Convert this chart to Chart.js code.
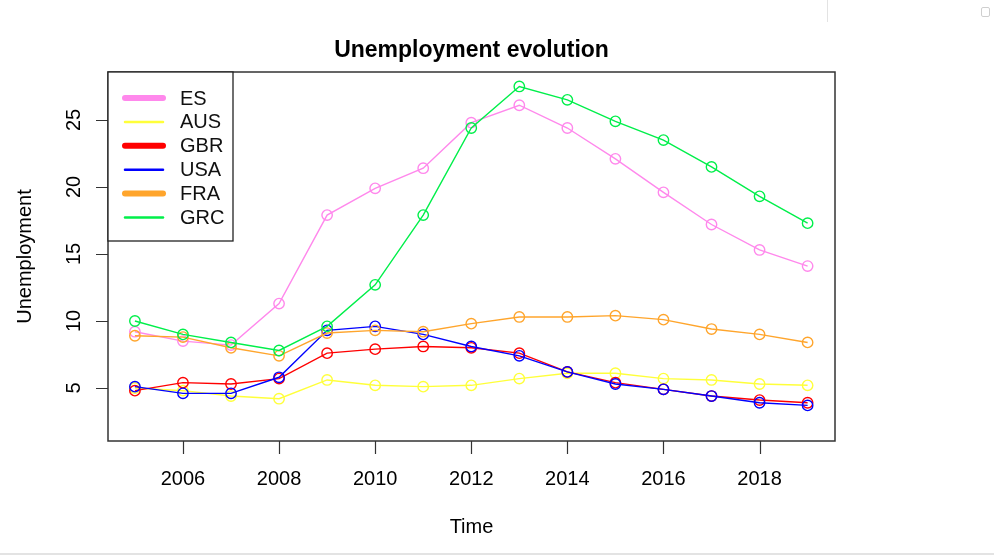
<!DOCTYPE html>
<html>
<head>
<meta charset="utf-8">
<script src="https://cdn.jsdelivr.net/npm/chart.js@4.4.1/dist/chart.umd.min.js"></script>
<style>
  html, body { margin: 0; padding: 0; background: #fff; }
  #wrap { position: relative; width: 994px; height: 555px; overflow: hidden; }
  #sep { position: absolute; left: 827px; top: 0; width: 1px; height: 22px; background: #e3e3e3; }
  #foot { position: absolute; left: 0; top: 553px; width: 994px; height: 2px; background: #e3e3e3; }
  #pop { position: absolute; left: 981px; top: 7px; width: 7px; height: 8px; border: 1px solid #cfcfcf; border-radius: 2px; }
</style>
</head>
<body>
<div id="wrap">
  <canvas id="unemploymentChart" width="994" height="555"></canvas>
  <div id="sep"></div>
  <div id="pop"></div>
  <div id="foot"></div>
</div>
<script>
// ─── Data ────────────────────────────────────────────────
const years = [2005, 2006, 2007, 2008, 2009, 2010, 2011, 2012, 2013, 2014, 2015, 2016, 2017, 2018, 2019];

const esValues  = [9.2, 8.5, 8.2, 11.3, 17.9, 19.9, 21.4, 24.8, 26.1, 24.4, 22.1, 19.6, 17.2, 15.3, 14.1];
const ausValues = [5.0, 4.8, 4.4, 4.2, 5.6, 5.2, 5.1, 5.2, 5.7, 6.1, 6.1, 5.7, 5.6, 5.3, 5.2];
const gbrValues = [4.8, 5.4, 5.3, 5.7, 7.6, 7.9, 8.1, 8.0, 7.6, 6.2, 5.4, 4.9, 4.4, 4.1, 3.9];
const usaValues = [5.1, 4.6, 4.6, 5.8, 9.3, 9.6, 9.0, 8.1, 7.4, 6.2, 5.3, 4.9, 4.4, 3.9, 3.7];
const fraValues = [8.9, 8.8, 8.0, 7.4, 9.1, 9.3, 9.2, 9.8, 10.3, 10.3, 10.4, 10.1, 9.4, 9.0, 8.4];
const grcValues = [10.0, 9.0, 8.4, 7.8, 9.6, 12.7, 17.9, 24.4, 27.5, 26.5, 24.9, 23.5, 21.5, 19.3, 17.3];

const seriesNames = ['ES', 'AUS', 'GBR', 'USA', 'FRA', 'GRC'];
const xTicks = [2006, 2008, 2010, 2012, 2014, 2016, 2018];
const yTicks = [5, 10, 15, 20, 25];

const seriesColors = ['#ff88ec', '#ffff3a', '#ff0000', '#0000ff', '#ffa52c', '#00ef4a'];
const legendWidths = [6, 2.5, 6, 2.5, 6, 2.5];

const allValues = [esValues, ausValues, gbrValues, usaValues, fraValues, grcValues];

// ─── Base-graphics style axes, title and legend ──────────
const rStylePlugin = {
  id: 'rStyle',
  afterDraw(chart) {
    const { ctx, chartArea } = chart;
    const { left, right, top, bottom } = chartArea;
    const xs = chart.scales.x;
    const ys = chart.scales.y;
    ctx.save();
    ctx.fillStyle = '#000';
    ctx.strokeStyle = '#333';
    ctx.lineWidth = 1.5;

    // box
    ctx.strokeRect(left, top, right - left, bottom - top);

    // x ticks + labels
    ctx.font = '20px "Liberation Sans", Arial, sans-serif';
    ctx.textAlign = 'center';
    ctx.textBaseline = 'alphabetic';
    ctx.lineWidth = 1.2;
    ctx.beginPath();
    xTicks.forEach(v => {
      const px = Math.round(xs.getPixelForValue(v)) + 0.5;
      ctx.moveTo(px, bottom);
      ctx.lineTo(px, bottom + 13);
    });
    ctx.stroke();
    xTicks.forEach(v => ctx.fillText(String(v), xs.getPixelForValue(v), bottom + 44));

    // y ticks + rotated labels
    ctx.beginPath();
    yTicks.forEach(v => {
      const py = Math.round(ys.getPixelForValue(v)) + 0.5;
      ctx.moveTo(left, py);
      ctx.lineTo(left - 12, py);
    });
    ctx.stroke();
    yTicks.forEach(v => {
      ctx.save();
      ctx.translate(left - 28, ys.getPixelForValue(v));
      ctx.rotate(-Math.PI / 2);
      ctx.fillText(String(v), 0, 0);
      ctx.restore();
    });

    // title + axis titles
    const midX = (left + right) / 2;
    ctx.font = 'bold 23px "Liberation Sans", Arial, sans-serif';
    ctx.fillText('Unemployment evolution', midX, 57);
    ctx.font = '20px "Liberation Sans", Arial, sans-serif';
    ctx.fillText('Time', midX, 533);
    ctx.save();
    ctx.translate(31, (top + bottom) / 2);
    ctx.rotate(-Math.PI / 2);
    ctx.fillText('Unemployment', 0, 0);
    ctx.restore();

    // legend
    const lgX = left, lgY = top, lgW = 125, lgH = 169;
    ctx.fillStyle = '#fff';
    ctx.fillRect(lgX, lgY, lgW, lgH);
    ctx.strokeStyle = '#222';
    ctx.lineWidth = 1.3;
    ctx.strokeRect(lgX, lgY, lgW, lgH);
    ctx.textAlign = 'left';
    ctx.textBaseline = 'middle';
    ctx.lineCap = 'round';
    seriesNames.forEach((name, i) => {
      const cy = lgY + 26 + i * 23.9;
      ctx.strokeStyle = seriesColors[i];
      ctx.lineWidth = legendWidths[i];
      ctx.beginPath();
      ctx.moveTo(lgX + 17, cy);
      ctx.lineTo(lgX + 55, cy);
      ctx.stroke();
      ctx.fillStyle = '#111';
      ctx.fillText(name, lgX + 72, cy + 1);
    });
    ctx.restore();
  },
};

// ─── Line chart ──────────────────────────────────────────
function renderUnemploymentChart() {
  const canvas = document.getElementById('unemploymentChart');

  const datasets = seriesNames.map((name, i) => ({
    label: name,
    data: years.map((yr, j) => ({ x: yr, y: allValues[i][j] })),
    borderColor: seriesColors[i],
    borderWidth: 1.4,
    tension: 0,
    pointStyle: 'circle',
    pointRadius: 5.2,
    pointBorderWidth: 1.4,
    pointBorderColor: seriesColors[i],
    pointBackgroundColor: 'rgba(0,0,0,0)',
    order: seriesNames.length - i,
  }));

  new Chart(canvas, {
    type: 'line',
    data: { datasets },
    plugins: [rStylePlugin],
    options: {
      responsive: false,
      animation: false,
      layout: { padding: { top: 72, right: 159, left: 0, bottom: 0 } },
      plugins: {
        legend: { display: false },
        title: { display: false },
        tooltip: { enabled: false },
      },
      scales: {
        x: {
          type: 'linear',
          min: 2004.44,
          max: 2019.57,
          grid: { display: false },
          border: { display: false },
          ticks: { display: false },
          afterBuildTicks: s => { s.ticks = xTicks.map(v => ({ value: v })); },
          afterFit: s => { s.height = 114; },
        },
        y: {
          type: 'linear',
          min: 1.045,
          max: 28.58,
          grid: { display: false },
          border: { display: false },
          ticks: { display: false },
          afterBuildTicks: s => { s.ticks = yTicks.map(v => ({ value: v })); },
          afterFit: s => { s.width = 108; },
        },
      },
    },
  });
}

renderUnemploymentChart();
</script>
</body>
</html>
